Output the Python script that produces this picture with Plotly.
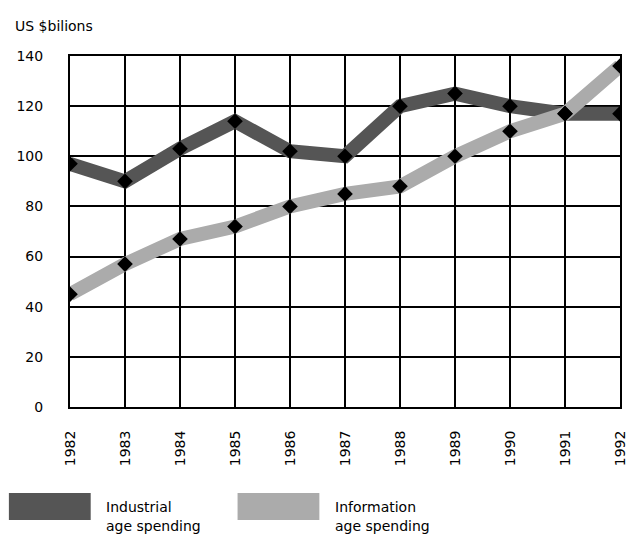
import plotly.graph_objects as go

years = [1982, 1983, 1984, 1985, 1986, 1987, 1988, 1989, 1990, 1991, 1992]
industrial = [97, 90, 103, 114, 102, 100, 120, 125, 120, 117, 117]
information = [45, 57, 67, 72, 80, 85, 88, 100, 110, 117, 136]
y_ticks = [0, 20, 40, 60, 80, 100, 120, 140]
legend_line1 = ["Industrial", "Information"]
legend_line2 = ["age spending", "age spending"]
dark = "#555555"
light = "#ababab"
font_family = "DejaVu Sans, sans-serif"

fig = go.Figure()
fig.add_trace(go.Scatter(x=years, y=industrial, mode="lines",
                         line=dict(color=dark, width=14), showlegend=False, hoverinfo="skip"))
fig.add_trace(go.Scatter(x=years, y=information, mode="lines",
                         line=dict(color=light, width=14), showlegend=False, hoverinfo="skip"))
fig.add_trace(go.Scatter(x=years, y=industrial, mode="markers",
                         marker=dict(symbol="diamond", color="black", size=12), showlegend=False))
fig.add_trace(go.Scatter(x=years, y=information, mode="markers",
                         marker=dict(symbol="diamond", color="black", size=12), showlegend=False))

fig.update_layout(
    width=639, height=537,
    margin=dict(l=70, r=11, t=56, b=130),
    paper_bgcolor="white", plot_bgcolor="white",
    font=dict(family=font_family, size=14, color="black"),
    xaxis=dict(range=[years[0], years[-1]], tickmode="array", tickvals=years,
               ticktext=[str(y) for y in years], tickangle=-90,
               showgrid=True, gridcolor="black", gridwidth=2,
               showline=True, linecolor="black", linewidth=2, mirror=True,
               zeroline=False, ticks="outside", ticklen=16, tickcolor="white",
               fixedrange=True),
    yaxis=dict(range=[0, 140], tickmode="array", tickvals=y_ticks,
               showgrid=True, gridcolor="black", gridwidth=2,
               showline=True, linecolor="black", linewidth=2, mirror=True,
               zeroline=False, ticks="outside", ticklen=22, tickcolor="white",
               fixedrange=True),
)

def py(px):
    return (407 - px) / 351

def pxx(px):
    return (px - 70) / 558

fig.add_annotation(text="US $bilions", xref="paper", yref="paper", x=pxx(12), y=py(26),
                   xanchor="left", yanchor="middle", showarrow=False, font=dict(size=14))

# legend
legend_colors = [dark, light]
legend_x0 = [8, 240]
for l1, l2, col, x0 in zip(legend_line1, legend_line2, legend_colors, legend_x0):
    fig.add_shape(type="rect", xref="paper", yref="paper",
                  x0=pxx(x0), x1=pxx(x0 + 83),
                  y0=py(520), y1=py(493),
                  fillcolor=col, line=dict(width=0))
    fig.add_annotation(text=l1, xref="paper", yref="paper",
                       x=pxx(x0 + 97), y=py(507),
                       xanchor="left", yanchor="middle", showarrow=False,
                       font=dict(size=14))
    fig.add_annotation(text=l2, xref="paper", yref="paper",
                       x=pxx(x0 + 97), y=py(526),
                       xanchor="left", yanchor="middle", showarrow=False,
                       font=dict(size=14))

fig.write_html("out.html")
